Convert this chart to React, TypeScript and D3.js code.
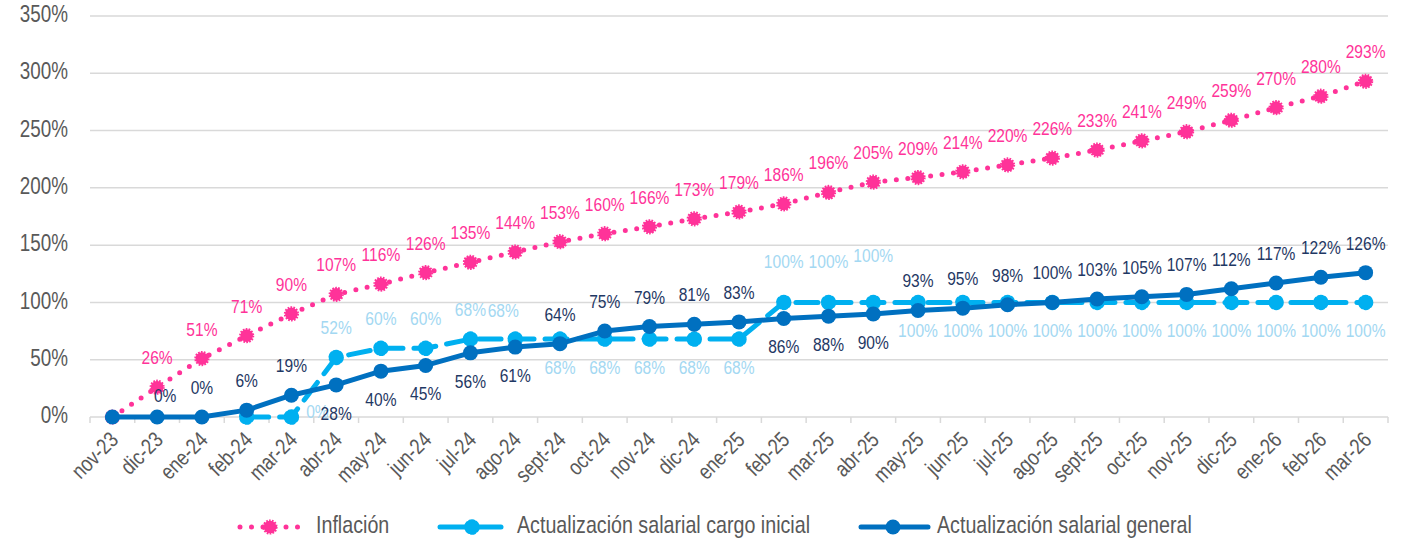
import React from "react";
import * as d3 from "d3";

const months = [
  "nov-23", "dic-23", "ene-24", "feb-24", "mar-24", "abr-24", "may-24", "jun-24",
  "jul-24", "ago-24", "sept-24", "oct-24", "nov-24", "dic-24", "ene-25", "feb-25",
  "mar-25", "abr-25", "may-25", "jun-25", "jul-25", "ago-25", "sept-25", "oct-25",
  "nov-25", "dic-25", "ene-26", "feb-26", "mar-26",
];

const inflacion = [
  0, 26, 51, 71, 90, 107, 116, 126, 135, 144, 153, 160, 166, 173, 179, 186,
  196, 205, 209, 214, 220, 226, 233, 241, 249, 259, 270, 280, 293,
];

const cargoInicial: (number | null)[] = [
  null, null, null, 0, 0, 52, 60, 60, 68, 68, 68, 68, 68, 68, 68, 100,
  100, 100, 100, 100, 100, 100, 100, 100, 100, 100, 100, 100, 100,
];

const general = [
  0, 0, 0, 6, 19, 28, 40, 45, 56, 61, 64, 75, 79, 81, 83, 86,
  88, 90, 93, 95, 98, 100, 103, 105, 107, 112, 117, 122, 126,
];

const yTicks = [0, 50, 100, 150, 200, 250, 300, 350];

// label placement per point: a above, b below, r right, A far above, l above-left, R above-right, "" none
const inflPlace = ["", ...Array(28).fill("a")];
const cargoPlace = [
  "", "", "", "", "r", "a", "a", "a", "a", "l", "b", "b", "b", "b", "b", "A",
  "A", "A2", "b", "b", "b", "b", "b", "b", "b", "b", "b", "b", "b",
];
const generalPlace = [
  "", "R", "a", "a", "a", "b", "b", "b", "b", "b", "a", "a", "a", "a", "a", "b",
  "b", "b", "a", "a", "a", "a", "a", "a", "a", "a", "a", "a", "a",
];

const W = 1412;
const H = 543;
const FONT = "'Liberation Sans', Arial, sans-serif";
const NARROW = 0.82; // Arial Narrow look

const PINK = "#FF3399";
const CYAN = "#00B0F0";
const BLUE = "#0070C0";
const NAVY = "#1F3864";
const CYAN_LABEL = "#A3D8F2";
const GRID = "#D9D9D9";
const TEXT = "#595959";

const x = d3.scaleBand<string>().domain(months).range([90, 1388]);
const cx = (m: string) => (x(m) ?? 0) + x.bandwidth() / 2;
const y = d3.scaleLinear().domain([0, 350]).range([417, 16]);

const offsets: Record<string, [number, number]> = {
  a: [0, -28],
  b: [0, 30],
  r: [26, -4],
  A: [0, -39],
  A2: [0, -45],
  l: [-12, -27],
  R: [8, -20],
};

const lineGen = d3
  .line<[string, number | null]>()
  .defined((d) => d[1] != null)
  .x((d) => cx(d[0]))
  .y((d) => y(d[1] as number));

// text drawn horizontally condensed
const NText = ({
  x: tx,
  y: ty,
  rotate = 0,
  anchor = "middle",
  size,
  color,
  children,
}: {
  x: number;
  y: number;
  rotate?: number;
  anchor?: string;
  size: number;
  color: string;
  children: React.ReactNode;
}) => (
  <text
    transform={`translate(${tx},${ty}) rotate(${rotate}) scale(${NARROW},1)`}
    textAnchor={anchor}
    dominantBaseline="middle"
    fontFamily={FONT}
    fontSize={size}
    fill={color}
  >
    {children}
  </text>
);

const InflMarker = ({ px, py }: { px: number; py: number }) => (
  <circle cx={px} cy={py} r={6.3} fill={PINK} stroke={PINK} strokeWidth={2.6} strokeDasharray="1.6 1.2" />
);
const CargoMarker = ({ px, py }: { px: number; py: number }) => (
  <g>
    <circle cx={px} cy={py} r={5.5} fill={CYAN} />
    <circle cx={px} cy={py} r={6} fill="none" stroke={CYAN} strokeWidth={3.5} strokeDasharray="4 2.3" strokeLinecap="round" />
  </g>
);
const GenMarker = ({ px, py }: { px: number; py: number }) => (
  <circle cx={px} cy={py} r={7.5} fill={BLUE} />
);

const Labels = ({
  values,
  place,
  color,
}: {
  values: (number | null)[];
  place: string[];
  color: string;
}) => (
  <g>
    {values.map((v, i) => {
      if (v == null || !place[i]) return null;
      const [dx, dy] = offsets[place[i]];
      return (
        <NText key={i} x={cx(months[i]) + dx} y={y(v) + dy} size={19} color={color}>
          {`${v}%`}
        </NText>
      );
    })}
  </g>
);

export default function App() {
  const inflPts = months.map((m, i) => [m, inflacion[i]] as [string, number | null]);
  const cargoPts = months.map((m, i) => [m, cargoInicial[i]] as [string, number | null]);
  const genPts = months.map((m, i) => [m, general[i]] as [string, number | null]);
  const edges = months.map((m) => x(m) ?? 0).concat([x.range()[1]]);

  return (
    <svg width={W} height={H} style={{ position: "absolute", left: 0, top: 0, background: "#fff" }}>
      {/* grid */}
      {yTicks.map((t) => (
        <g key={t}>
          <line x1={90} x2={1388} y1={y(t)} y2={y(t)} stroke={GRID} strokeWidth={1.5} />
          <NText x={68} y={y(t)} anchor="end" size={23} color={TEXT}>
            {`${t}%`}
          </NText>
        </g>
      ))}
      {edges.map((e, i) => (
        <line key={i} x1={e} x2={e} y1={417} y2={423} stroke={GRID} strokeWidth={1.5} />
      ))}
      {months.map((m) => (
        <NText key={m} x={cx(m) + 3} y={437} rotate={-45} anchor="end" size={22} color={TEXT}>
          {m}
        </NText>
      ))}

      {/* Inflación */}
      <path d={lineGen(inflPts) ?? ""} fill="none" stroke={PINK} strokeWidth={5} strokeDasharray="0 11.5" strokeLinecap="round" />
      {inflPts.map(([m, v]) => (
        <InflMarker key={m} px={cx(m)} py={y(v as number)} />
      ))}

      {/* Cargo inicial */}
      <path d={lineGen(cargoPts) ?? ""} fill="none" stroke={CYAN} strokeWidth={5} strokeDasharray="22 11" strokeLinecap="round" />
      {cargoPts.map(([m, v]) =>
        v == null ? null : <CargoMarker key={m} px={cx(m)} py={y(v)} />
      )}

      {/* General */}
      <path d={lineGen(genPts) ?? ""} fill="none" stroke={BLUE} strokeWidth={5} strokeLinejoin="round" />
      {genPts.map(([m, v]) => (
        <GenMarker key={m} px={cx(m)} py={y(v as number)} />
      ))}

      <Labels values={inflacion} place={inflPlace} color={PINK} />
      <Labels values={cargoInicial} place={cargoPlace} color={CYAN_LABEL} />
      <Labels values={general} place={generalPlace} color={NAVY} />

      {/* legend */}
      <g>
        <line x1={240} x2={301} y1={527} y2={527} stroke={PINK} strokeWidth={5} strokeDasharray="0 11.5" strokeLinecap="round" />
        <InflMarker px={270} py={527} />
        <NText x={316} y={527} anchor="start" size={24} color={TEXT}>Inflación</NText>

        <line x1={440} x2={501} y1={527} y2={527} stroke={CYAN} strokeWidth={5} strokeLinecap="round" />
        <CargoMarker px={472} py={527} />
        <NText x={517} y={527} anchor="start" size={24} color={TEXT}>Actualización salarial cargo inicial</NText>

        <line x1={861} x2={928} y1={527} y2={527} stroke={BLUE} strokeWidth={5} strokeLinecap="round" />
        <GenMarker px={893} py={527} />
        <NText x={937} y={527} anchor="start" size={24} color={TEXT}>Actualización salarial general</NText>
      </g>
    </svg>
  );
}
